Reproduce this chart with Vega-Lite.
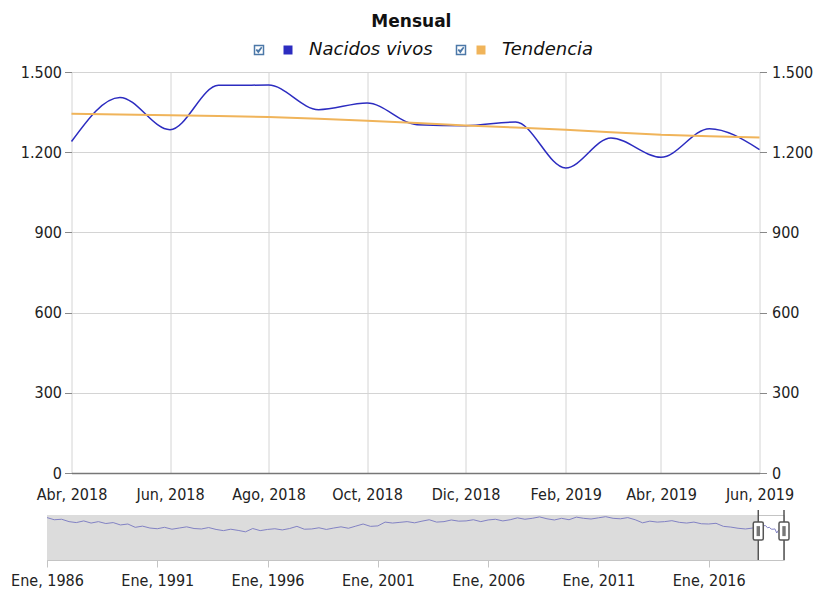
{
  "$schema": "https://vega.github.io/schema/vega-lite/v6.json",
  "background": "white",
  "padding": {"left": 10, "top": 13, "right": 5, "bottom": 5},
  "title": {"text": "Mensual", "fontSize": 17, "font": "DejaVu Sans", "fontWeight": "bold", "color": "#111111", "anchor": "middle", "offset": 10},
  "bounds": "flush",
  "center": true,
  "spacing": 42,
  "datasets": {
    "principal": [
      {"fecha": "2018-04-01", "serie": "Nacidos vivos", "valor": 1240},
      {"fecha": "2018-05-01", "serie": "Nacidos vivos", "valor": 1405},
      {"fecha": "2018-06-01", "serie": "Nacidos vivos", "valor": 1284},
      {"fecha": "2018-07-01", "serie": "Nacidos vivos", "valor": 1450},
      {"fecha": "2018-08-01", "serie": "Nacidos vivos", "valor": 1451},
      {"fecha": "2018-09-01", "serie": "Nacidos vivos", "valor": 1359},
      {"fecha": "2018-10-01", "serie": "Nacidos vivos", "valor": 1384},
      {"fecha": "2018-11-01", "serie": "Nacidos vivos", "valor": 1303},
      {"fecha": "2018-12-01", "serie": "Nacidos vivos", "valor": 1299},
      {"fecha": "2019-01-01", "serie": "Nacidos vivos", "valor": 1313},
      {"fecha": "2019-02-01", "serie": "Nacidos vivos", "valor": 1141},
      {"fecha": "2019-03-01", "serie": "Nacidos vivos", "valor": 1253},
      {"fecha": "2019-04-01", "serie": "Nacidos vivos", "valor": 1181},
      {"fecha": "2019-05-01", "serie": "Nacidos vivos", "valor": 1288},
      {"fecha": "2019-06-01", "serie": "Nacidos vivos", "valor": 1210},
      {"fecha": "2018-04-01", "serie": "Tendencia", "valor": 1344},
      {"fecha": "2018-05-01", "serie": "Tendencia", "valor": 1341},
      {"fecha": "2018-06-01", "serie": "Tendencia", "valor": 1338},
      {"fecha": "2018-07-01", "serie": "Tendencia", "valor": 1335},
      {"fecha": "2018-08-01", "serie": "Tendencia", "valor": 1332},
      {"fecha": "2018-09-01", "serie": "Tendencia", "valor": 1325},
      {"fecha": "2018-10-01", "serie": "Tendencia", "valor": 1318},
      {"fecha": "2018-11-01", "serie": "Tendencia", "valor": 1309},
      {"fecha": "2018-12-01", "serie": "Tendencia", "valor": 1300},
      {"fecha": "2019-01-01", "serie": "Tendencia", "valor": 1292},
      {"fecha": "2019-02-01", "serie": "Tendencia", "valor": 1284},
      {"fecha": "2019-03-01", "serie": "Tendencia", "valor": 1275},
      {"fecha": "2019-04-01", "serie": "Tendencia", "valor": 1265},
      {"fecha": "2019-05-01", "serie": "Tendencia", "valor": 1260},
      {"fecha": "2019-06-01", "serie": "Tendencia", "valor": 1255}
    ],
    "navegador": [
      {"fecha": "1986-01-01", "valor": 1790}, {"fecha": "1986-05-01", "valor": 1700}, {"fecha": "1986-09-01", "valor": 1720},
      {"fecha": "1987-01-01", "valor": 1620}, {"fecha": "1987-05-01", "valor": 1580}, {"fecha": "1987-09-01", "valor": 1650},
      {"fecha": "1988-01-01", "valor": 1560}, {"fecha": "1988-05-01", "valor": 1620}, {"fecha": "1988-09-01", "valor": 1540},
      {"fecha": "1989-01-01", "valor": 1580}, {"fecha": "1989-05-01", "valor": 1480}, {"fecha": "1989-09-01", "valor": 1520},
      {"fecha": "1990-01-01", "valor": 1380}, {"fecha": "1990-05-01", "valor": 1430}, {"fecha": "1990-09-01", "valor": 1350},
      {"fecha": "1991-01-01", "valor": 1320}, {"fecha": "1991-05-01", "valor": 1380}, {"fecha": "1991-09-01", "valor": 1300},
      {"fecha": "1992-01-01", "valor": 1350}, {"fecha": "1992-05-01", "valor": 1400}, {"fecha": "1992-09-01", "valor": 1330},
      {"fecha": "1993-01-01", "valor": 1310}, {"fecha": "1993-05-01", "valor": 1370}, {"fecha": "1993-09-01", "valor": 1290},
      {"fecha": "1994-01-01", "valor": 1240}, {"fecha": "1994-05-01", "valor": 1300}, {"fecha": "1994-09-01", "valor": 1250},
      {"fecha": "1995-01-01", "valor": 1190}, {"fecha": "1995-05-01", "valor": 1330}, {"fecha": "1995-09-01", "valor": 1240},
      {"fecha": "1996-01-01", "valor": 1290}, {"fecha": "1996-05-01", "valor": 1320}, {"fecha": "1996-09-01", "valor": 1270},
      {"fecha": "1997-01-01", "valor": 1330}, {"fecha": "1997-05-01", "valor": 1420}, {"fecha": "1997-09-01", "valor": 1300},
      {"fecha": "1998-01-01", "valor": 1310}, {"fecha": "1998-05-01", "valor": 1360}, {"fecha": "1998-09-01", "valor": 1290},
      {"fecha": "1999-01-01", "valor": 1350}, {"fecha": "1999-05-01", "valor": 1400}, {"fecha": "1999-09-01", "valor": 1340},
      {"fecha": "2000-01-01", "valor": 1430}, {"fecha": "2000-05-01", "valor": 1520}, {"fecha": "2000-09-01", "valor": 1420},
      {"fecha": "2001-01-01", "valor": 1440}, {"fecha": "2001-05-01", "valor": 1600}, {"fecha": "2001-09-01", "valor": 1560},
      {"fecha": "2002-01-01", "valor": 1590}, {"fecha": "2002-05-01", "valor": 1620}, {"fecha": "2002-09-01", "valor": 1570},
      {"fecha": "2003-01-01", "valor": 1640}, {"fecha": "2003-05-01", "valor": 1700}, {"fecha": "2003-09-01", "valor": 1600},
      {"fecha": "2004-01-01", "valor": 1620}, {"fecha": "2004-05-01", "valor": 1690}, {"fecha": "2004-09-01", "valor": 1640},
      {"fecha": "2005-01-01", "valor": 1650}, {"fecha": "2005-05-01", "valor": 1700}, {"fecha": "2005-09-01", "valor": 1620},
      {"fecha": "2006-01-01", "valor": 1690}, {"fecha": "2006-05-01", "valor": 1720}, {"fecha": "2006-09-01", "valor": 1650},
      {"fecha": "2007-01-01", "valor": 1700}, {"fecha": "2007-05-01", "valor": 1780}, {"fecha": "2007-09-01", "valor": 1720},
      {"fecha": "2008-01-01", "valor": 1760}, {"fecha": "2008-05-01", "valor": 1820}, {"fecha": "2008-09-01", "valor": 1740},
      {"fecha": "2009-01-01", "valor": 1690}, {"fecha": "2009-05-01", "valor": 1760}, {"fecha": "2009-09-01", "valor": 1700},
      {"fecha": "2010-01-01", "valor": 1810}, {"fecha": "2010-05-01", "valor": 1760}, {"fecha": "2010-09-01", "valor": 1730},
      {"fecha": "2011-01-01", "valor": 1780}, {"fecha": "2011-05-01", "valor": 1830}, {"fecha": "2011-09-01", "valor": 1760},
      {"fecha": "2012-01-01", "valor": 1740}, {"fecha": "2012-05-01", "valor": 1790}, {"fecha": "2012-09-01", "valor": 1700},
      {"fecha": "2013-01-01", "valor": 1570}, {"fecha": "2013-05-01", "valor": 1640}, {"fecha": "2013-09-01", "valor": 1600},
      {"fecha": "2014-01-01", "valor": 1620}, {"fecha": "2014-05-01", "valor": 1660}, {"fecha": "2014-09-01", "valor": 1590},
      {"fecha": "2015-01-01", "valor": 1560}, {"fecha": "2015-05-01", "valor": 1600}, {"fecha": "2015-09-01", "valor": 1530},
      {"fecha": "2016-01-01", "valor": 1520}, {"fecha": "2016-05-01", "valor": 1550}, {"fecha": "2016-09-01", "valor": 1420},
      {"fecha": "2017-01-01", "valor": 1390}, {"fecha": "2017-05-01", "valor": 1340}, {"fecha": "2017-09-01", "valor": 1310},
      {"fecha": "2018-01-01", "valor": 1350}, {"fecha": "2018-03-01", "valor": 1290},
      {"fecha": "2018-04-01", "valor": 1240}, {"fecha": "2018-05-01", "valor": 1405}, {"fecha": "2018-06-01", "valor": 1284},
      {"fecha": "2018-07-01", "valor": 1450}, {"fecha": "2018-08-01", "valor": 1451}, {"fecha": "2018-09-01", "valor": 1359},
      {"fecha": "2018-10-01", "valor": 1384}, {"fecha": "2018-11-01", "valor": 1303}, {"fecha": "2018-12-01", "valor": 1299},
      {"fecha": "2019-01-01", "valor": 1313}, {"fecha": "2019-02-01", "valor": 1141}, {"fecha": "2019-03-01", "valor": 1253},
      {"fecha": "2019-04-01", "valor": 1181}, {"fecha": "2019-05-01", "valor": 1288}, {"fecha": "2019-06-01", "valor": 1210}
    ],
    "ventana": [
      {"desde": "1986-01-01", "hasta": "2018-04-01"}
    ],
    "manijas": [
      {"fecha": "2018-04-01"},
      {"fecha": "2019-06-01"}
    ]
  },
  "vconcat": [
    {
      "width": 688,
      "height": 401,
      "view": {"stroke": null},
      "data": {"name": "principal"},
      "layer": [
        {
          "transform": [{"filter": "datum.serie === 'Nacidos vivos'"}],
          "mark": {"type": "line", "interpolate": "monotone", "strokeWidth": 1.5},
          "encoding": {
            "x": {
              "field": "fecha", "type": "temporal",
              "scale": {"type": "utc", "domain": [{"year": 2018, "month": 4, "date": 1, "utc": true}, {"year": 2019, "month": 6, "date": 1, "utc": true}]},
              "axis": {
                "title": null, "orient": "bottom",
                "values": [
                  {"year": 2018, "month": 4, "date": 1, "utc": true},
                  {"year": 2018, "month": 6, "date": 1, "utc": true},
                  {"year": 2018, "month": 8, "date": 1, "utc": true},
                  {"year": 2018, "month": 10, "date": 1, "utc": true},
                  {"year": 2018, "month": 12, "date": 1, "utc": true},
                  {"year": 2019, "month": 2, "date": 1, "utc": true},
                  {"year": 2019, "month": 4, "date": 1, "utc": true},
                  {"year": 2019, "month": 6, "date": 1, "utc": true}
                ],
                "labelExpr": "['Ene','Feb','Mar','Abr','May','Jun','Jul','Ago','Sep','Oct','Nov','Dic'][utcmonth(datum.value)] + ', ' + utcyear(datum.value)",
                "grid": true, "gridColor": "#d4d4d4",
                "ticks": false, "tickSize": 0, "labelPadding": 13,
                "domain": true, "domainColor": "#777777", "domainWidth": 1.5,
                "labelOverlap": false, "labelFlush": false
              }
            },
            "y": {
              "field": "valor", "type": "quantitative",
              "scale": {"domain": [0, 1500], "nice": false, "zero": true},
              "axis": {
                "title": null, "orient": "left",
                "values": [0, 300, 600, 900, 1200, 1500],
                "labelExpr": "replace(format(datum.value, ','), ',', '.')",
                "grid": true, "gridColor": "#d4d4d4",
                "domain": false, "ticks": true, "tickSize": 7, "tickColor": "#888888",
                "labelPadding": 3
              }
            },
            "color": {
              "field": "serie", "type": "nominal",
              "scale": {"range": ["#2c2cc0", "#f0b45a"]},
              "legend": {
                "title": null,
                "orient": "none",
                "legendX": 232,
                "legendY": -31,
                "direction": "horizontal",
                "symbolType": "square",
                "symbolSize": 81,
                "symbolStrokeWidth": 0,
                "labelFont": "DejaVu Sans",
                "labelFontSize": 18,
                "labelFontStyle": "italic",
                "labelColor": "#111111",
                "labelOffset": 12,
                "columnPadding": 39,
                "encode": {"symbols": {"update": {"fill": {"scale": "color", "field": "value"}, "strokeWidth": {"value": 0}}}}
              }
            }
          }
        },
        {
          "transform": [{"filter": "datum.serie === 'Tendencia'"}],
          "mark": {"type": "line", "strokeWidth": 2},
          "encoding": {
            "x": {"field": "fecha", "type": "temporal"},
            "y": {
              "field": "valor", "type": "quantitative",
              "scale": {"domain": [0, 1500], "nice": false, "zero": true},
              "axis": {
                "title": null, "orient": "right",
                "values": [0, 300, 600, 900, 1200, 1500],
                "labelExpr": "replace(format(datum.value, ','), ',', '.')",
                "grid": false,
                "domain": false, "ticks": true, "tickSize": 7, "tickColor": "#888888",
                "labelPadding": 5
              }
            },
            "color": {"field": "serie", "type": "nominal"}
          }
        },
        {
          "mark": {"type": "point", "opacity": 0},
          "encoding": {
            "x": {"field": "fecha", "type": "temporal"},
            "y": {"field": "valor", "type": "quantitative", "scale": {"domain": [0, 1500], "nice": false}, "axis": null},
            "shape": {
              "field": "serie", "type": "nominal",
              "scale": {
                "domain": ["Nacidos vivos", "Tendencia"],
                "range": [
                  "M-1,-1 H1 V1 H-1 Z M-0.6,-0.05 L-0.15,0.5 L0.6,-0.6 L-0.15,0.2 Z",
                  "M-1,-1 H1 V1 H-1 Z M-0.6,-0.05 L-0.15,0.5 L0.6,-0.6 L-0.15,0.2 Z"
                ]
              },
              "legend": {
                "title": null,
                "orient": "none",
                "legendX": 203,
                "legendY": -31,
                "direction": "horizontal",
                "symbolSize": 81,
                "labelExpr": "''",
                "labelFontSize": 18,
                "labelOffset": 0,
                "columnPadding": 184,
                "encode": {"symbols": {"update": {"fill": {"value": "#e4eaf4"}, "stroke": {"value": "#7d8cab"}, "strokeWidth": {"value": 1}, "opacity": {"value": 1}}}}
              }
            }
          }
        }
      ],
      "resolve": {"scale": {"y": "independent"}}
    },
    {
      "width": 737,
      "height": 45,
      "view": {"stroke": "#c4c4c4", "strokeWidth": 1},
      "layer": [
        {
          "data": {"name": "ventana"},
          "mark": {"type": "rect", "color": "#dcdcdc", "opacity": 1},
          "encoding": {
            "x": {
              "field": "desde", "type": "temporal",
              "scale": {"type": "utc", "domain": [{"year": 1986, "month": 1, "date": 1, "utc": true}, {"year": 2019, "month": 6, "date": 1, "utc": true}]},
              "axis": {
                "title": null, "orient": "bottom",
                "values": [
                  {"year": 1986, "month": 1, "date": 1, "utc": true},
                  {"year": 1991, "month": 1, "date": 1, "utc": true},
                  {"year": 1996, "month": 1, "date": 1, "utc": true},
                  {"year": 2001, "month": 1, "date": 1, "utc": true},
                  {"year": 2006, "month": 1, "date": 1, "utc": true},
                  {"year": 2011, "month": 1, "date": 1, "utc": true},
                  {"year": 2016, "month": 1, "date": 1, "utc": true}
                ],
                "labelExpr": "['Ene','Feb','Mar','Abr','May','Jun','Jul','Ago','Sep','Oct','Nov','Dic'][utcmonth(datum.value)] + ', ' + utcyear(datum.value)",
                "grid": true, "gridColor": "#c4c4c4",
                "ticks": true, "tickSize": 7, "tickColor": "#c4c4c4",
                "domain": false, "labelPadding": 5,
                "labelOverlap": false, "labelFlush": false
              }
            },
            "x2": {"field": "hasta"}
          }
        },
        {
          "data": {"name": "navegador"},
          "mark": {"type": "line", "color": "#8282c4", "strokeWidth": 1},
          "encoding": {
            "x": {"field": "fecha", "type": "temporal"},
            "y": {"field": "valor", "type": "quantitative", "scale": {"domain": [0, 1900], "nice": false}, "axis": null}
          }
        },
        {
          "data": {"name": "manijas"},
          "mark": {"type": "rule", "color": "#555555", "strokeWidth": 1.5},
          "encoding": {
            "x": {"field": "fecha", "type": "temporal"},
            "y": {"datum": 2110},
            "y2": {"datum": 0}
          }
        },
        {
          "data": {"name": "manijas"},
          "mark": {"type": "point", "filled": true, "fill": "#ffffff", "stroke": "#555555", "strokeWidth": 1.5, "opacity": 1, "size": 400,
            "shape": "M-0.35,-0.9 H0.35 Q0.5,-0.9 0.5,-0.75 V0.75 Q0.5,0.9 0.35,0.9 H-0.35 Q-0.5,0.9 -0.5,0.75 V-0.75 Q-0.5,-0.9 -0.35,-0.9 Z"},
          "encoding": {
            "x": {"field": "fecha", "type": "temporal"},
            "y": {"datum": 1220}
          }
        },
        {
          "data": {"name": "manijas"},
          "mark": {"type": "point", "filled": true, "fill": "#777777", "strokeWidth": 0, "opacity": 1, "size": 400,
            "shape": "M-0.17,-0.5 H0.17 V0.5 H-0.17 Z"},
          "encoding": {
            "x": {"field": "fecha", "type": "temporal"},
            "y": {"datum": 1220}
          }
        }
      ]
    }
  ],
  "config": {
    "font": "DejaVu Sans",
    "axis": {
      "labelFont": "DejaVu Sans Condensed, DejaVu Sans",
      "labelFontSize": 16,
      "labelColor": "#222222"
    }
  }
}
